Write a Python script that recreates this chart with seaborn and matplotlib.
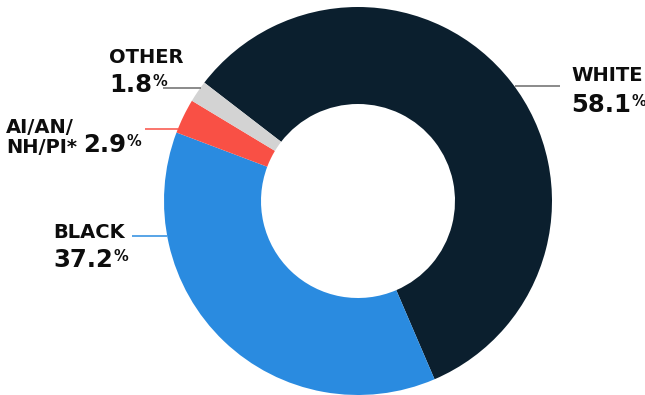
import matplotlib
matplotlib.use("Agg")
import matplotlib.pyplot as plt
import seaborn as sns

categories = ["WHITE", "BLACK", "AI/AN/\nNH/PI*", "OTHER"]
values = [58.1, 37.2, 2.9, 1.8]
value_labels = ["58.1", "37.2", "2.9", "1.8"]
colors = ["#0b1f2e", "#2a8be0", "#f95045", "#d3d3d3"]
line_colors = ["#6b6b6b", "#2a8be0", "#f95045", "#6b6b6b"]

sns.set_theme(style="white")
plt.rcParams["font.family"] = ["DejaVu Sans"]

W, H = 645, 395
fig = plt.figure(figsize=(W / 100, H / 100), dpi=100)
ax = fig.add_axes([0, 0, 1, 1])

def Y(y):
    return H - y

ax.pie(values, colors=colors, startangle=142.4, counterclock=False,
       radius=194, center=(358, Y(201)),
       wedgeprops=dict(width=97, linewidth=0, edgecolor="none"))
ax.set_xlim(0, W)
ax.set_ylim(0, H)
ax.set_aspect("equal")
ax.axis("off")

txt = "#0d0d0d"
name_size = 14
num_size = 17.5
pct_size = 10.5

def name(x, y, s):
    ax.text(x, Y(y), s, fontsize=name_size, fontweight="bold", color=txt,
            ha="left", va="baseline", linespacing=1.0)

def number(x, y, s):
    t = ax.text(x, Y(y), s, fontsize=num_size, fontweight="bold", color=txt,
                ha="left", va="baseline")
    ax.annotate("%", xy=(1, 1), xycoords=t, xytext=(0.3, -0.5),
                textcoords="offset points", fontsize=pct_size,
                fontweight="bold", color=txt, ha="left", va="top")

# leader lines (pixel positions)
leaders = [((515, 560), 86), ((132, 167), 236), ((145, 178), 129), ((163, 201), 88)]
for (x0, x1), y, c in [(l[0], l[1], lc) for l, lc in zip(leaders, line_colors)]:
    ax.plot([x0, x1], [Y(y), Y(y)], color=c, lw=1.1, solid_capstyle="butt")

# WHITE
name(571, 81, categories[0])
number(571, 112, value_labels[0])
# BLACK
name(53, 238, categories[1])
number(53, 267, value_labels[1])
# AI/AN/NH/PI*
ax.text(6, Y(153), categories[2], fontsize=name_size, fontweight="bold",
        color=txt, ha="left", va="baseline", linespacing=1.05)
number(83, 152, value_labels[2])
# OTHER
name(109, 63, categories[3])
number(109, 92, value_labels[3])

fig.savefig("out.png", dpi=100, facecolor="white")
